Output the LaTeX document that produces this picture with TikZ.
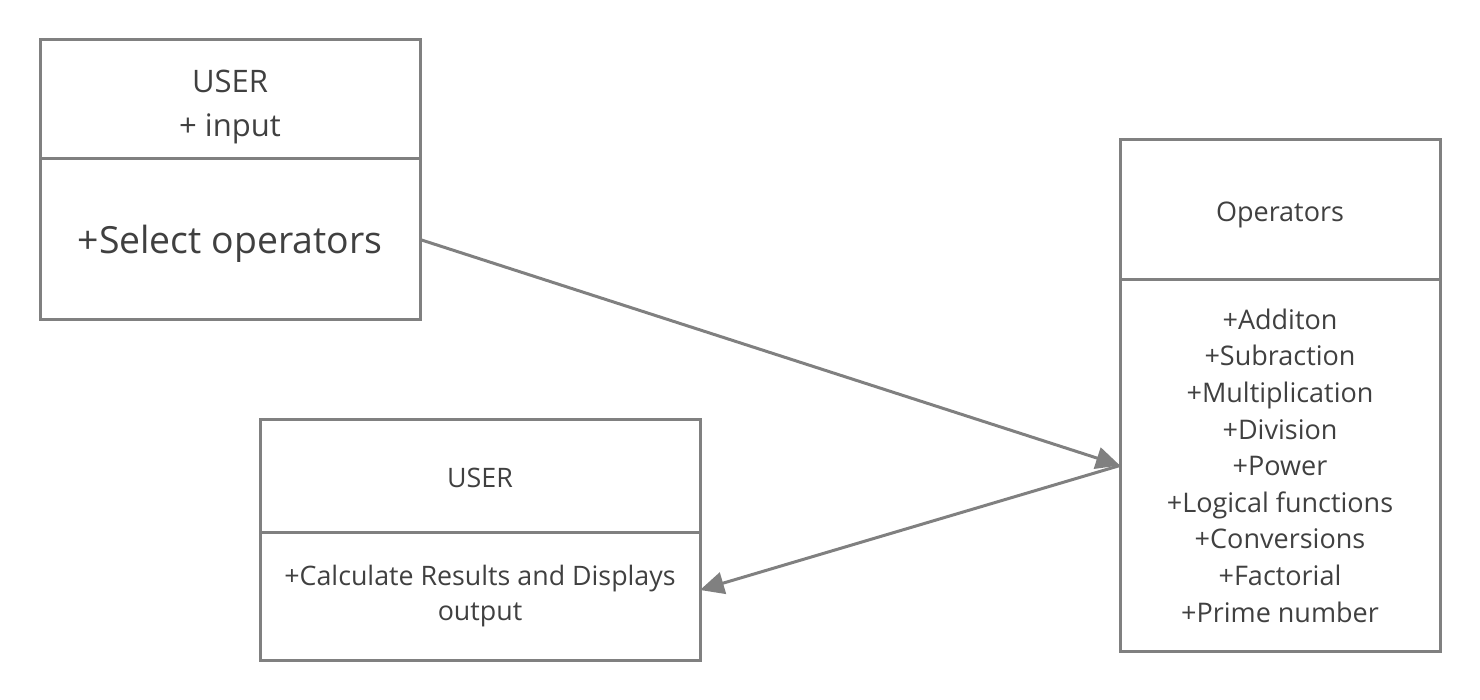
\documentclass[tikz,border=0pt]{standalone}
\usepackage{fontspec}
\setmainfont{Open Sans}
\usetikzlibrary{arrows.meta,positioning}
\definecolor{linegray}{HTML}{808080}
\definecolor{textgray}{HTML}{404040}
\tikzstyle{classhead}=[rectangle,draw=linegray,line width=1.5pt,inner sep=0pt,
  outer sep=0pt,text=textgray,align=center]
\tikzstyle{classbody}=[classhead]
\tikzstyle{link}=[draw=linegray,line width=1.5pt,-{Triangle[length=12pt,width=11pt]}]
\newcommand{\lift}[1]{\rule{0pt}{#1}}

\begin{document}
\begin{tikzpicture}[x=0.5pt,y=-0.5pt,node distance=0pt]
  \useasboundingbox (0,0) rectangle (1480,700);

  % user input class
  \node[classhead,minimum width=190pt,minimum height=59.5pt,
    font=\fontsize{15.5}{22}\selectfont] (userin) at (230,99.5)
    {\lift{19pt}USER\\+ input};
  \node[classbody,below=of userin,minimum width=190pt,minimum height=80.5pt,
    font=\fontsize{18.7}{20}\selectfont] (select) {\lift{18.5pt}+Select operators};

  % operators class
  \node[classhead,minimum width=160pt,minimum height=70pt,
    font=\fontsize{13.5}{18}\selectfont] (ops) at (1280,210) {\lift{15pt}Operators};
  \node[classbody,below=of ops,minimum width=160pt,minimum height=185.5pt,
    font=\fontsize{13.5}{18.3}\selectfont] (opsbody)
    {+Additon\\+Subraction\\+Multiplication\\+Division\\+Power\\
     +Logical functions\\+Conversions\\+Factorial\\+Prime number};

  % result class
  \node[classhead,minimum width=220pt,minimum height=56.5pt,
    font=\fontsize{13.4}{17.5}\selectfont] (userout) at (480,476.5) {\lift{11.5pt}USER};
  \node[classbody,below=of userout,minimum width=220pt,minimum height=63.5pt,
    font=\fontsize{13.4}{17.5}\selectfont] (result)
    {+Calculate Results and Displays\\output};

  \coordinate[above=3.25pt of result.east] (resin);
  \draw[link] (select.east) -- (opsbody.west);
  \draw[link] (opsbody.west) -- (resin);
\end{tikzpicture}
\end{document}
